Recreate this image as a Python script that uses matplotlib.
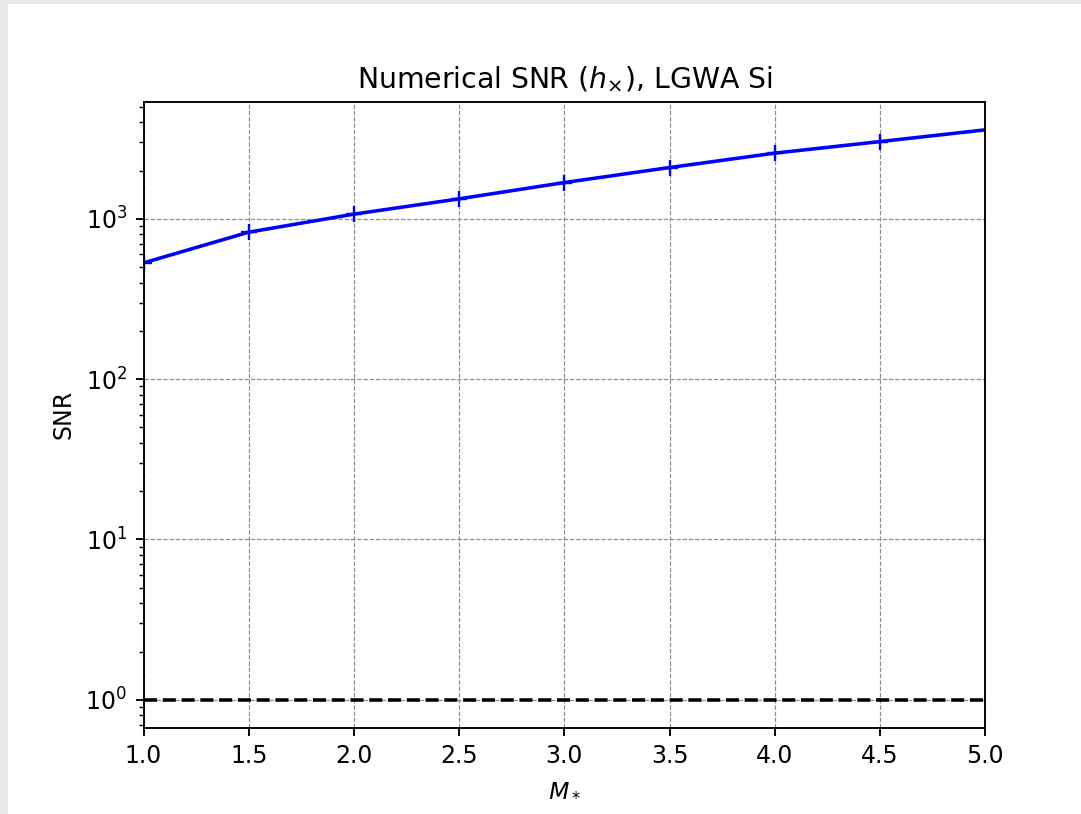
import numpy as np
import matplotlib
matplotlib.use("Agg")
import matplotlib.pyplot as plt
from matplotlib.patches import Rectangle

# Datos
mass = [1.0, 1.5, 2.0, 2.5, 3.0, 3.5, 4.0, 4.5, 5.0]
snr = [531, 826, 1070, 1333, 1684, 2090, 2570, 3034, 3590]
threshold = 1.0

W, H = 1081, 814
dpi = 170
fig = plt.figure(figsize=(W / dpi, H / dpi), dpi=dpi, facecolor="#e9e9e9")
fig.patches.append(Rectangle((8 / W, 0), 1, 1 - 4 / H, transform=fig.transFigure,
                             facecolor="white", edgecolor="none", zorder=-1))

ax = fig.add_axes([143.5 / W, 1 - 727.5 / H, (985.3 - 143.5) / W, (727.5 - 101.5) / H])
ax.plot(mass, snr, color="blue", marker="+", markersize=7, markevery=slice(0, 8))
ax.axhline(threshold, color="black", linestyle="--")
ax.set_yscale("log")
ax.set_xlim(1.0, 5.0)
ax.set_ylim(10 ** -0.173, 10 ** 3.732)
ax.grid(True, which="major", linestyle="--", color="gray", linewidth=0.5, alpha=0.9)
ax.set_xlabel("$M_*$")
ax.set_ylabel("SNR")
ax.set_title(r"Numerical SNR ($h_{\times}$), LGWA Si")

fig.savefig("out.png", dpi=dpi, facecolor=fig.get_facecolor())
